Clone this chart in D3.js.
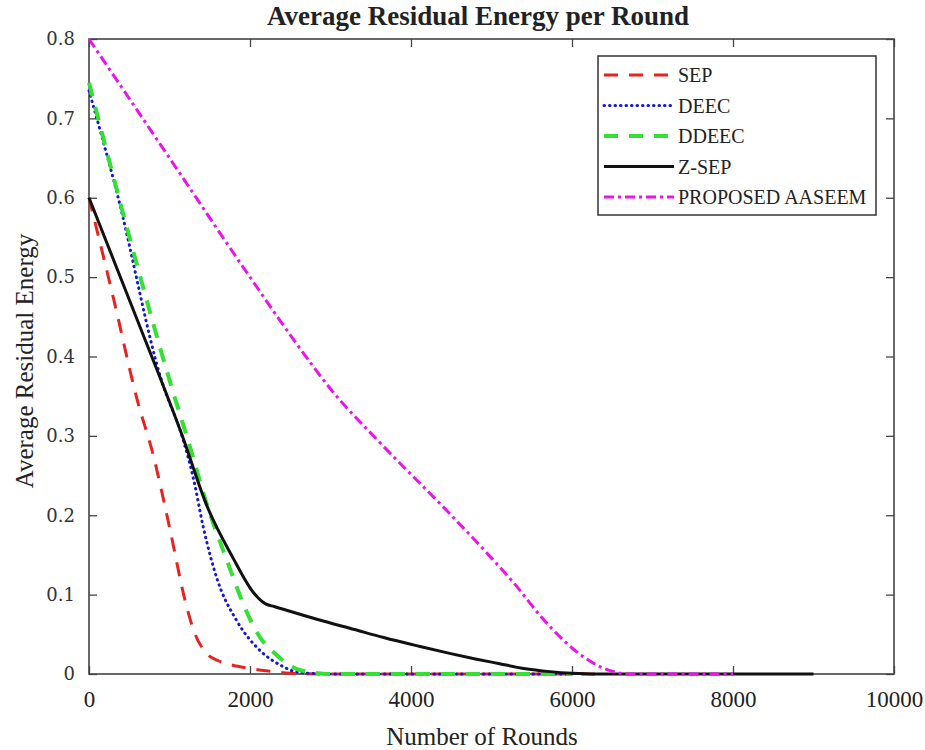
<!DOCTYPE html>
<html>
<head>
  <meta charset="utf-8">
  <script src="https://d3js.org/d3.v7.min.js"></script>
  <style>
    body { margin: 0; background: #fff; }
    text { font-family: "Liberation Serif", "DejaVu Serif", serif; fill: #222; }
    .axis .domain { stroke: none; }
    .axis line { stroke: #444; stroke-width: 1.3; }
    .y.axis text { font-family: "DejaVu Serif", serif; fill: #333; }
  </style>
</head>
<body>
  <svg id="chart" width="925" height="750"></svg>

  <script>
    // data: [rounds, average residual energy]
    const sepData = [[0, 0.6], [300, 0.475], [600, 0.345], [800, 0.275], [1000, 0.185], [1200, 0.09],
      [1300, 0.055], [1450, 0.027], [1600, 0.017], [1750, 0.012], [2000, 0.007], [2200, 0.004],
      [2500, 0.001], [3000, 0], [6300, 0]];
    const deecData = [[0, 0.735], [350, 0.605], [900, 0.37], [1170, 0.295], [1300, 0.245], [1420, 0.185],
      [1590, 0.12], [1830, 0.068], [2120, 0.03], [2400, 0.01], [2600, 0.002], [3000, 0], [6000, 0]];
    const ddeecData = [[0, 0.745], [530, 0.54], [1030, 0.36], [1255, 0.286], [1460, 0.215], [1710, 0.144],
      [1960, 0.078], [2100, 0.05], [2330, 0.024], [2620, 0.005], [3000, 0], [6000, 0]];
    const zsepData = [[0, 0.6], [600, 0.446], [1170, 0.297], [1460, 0.213], [1790, 0.146], [2040, 0.103],
      [2130, 0.093], [2200, 0.088], [2300, 0.085], [2830, 0.069], [3300, 0.056], [3660, 0.046], [4100, 0.035],
      [4480, 0.026], [4800, 0.019], [5100, 0.013], [5400, 0.007], [5730, 0.003], [6000, 0.001],
      [6300, 0], [9000, 0]];
    const aaseemData = [[0, 0.8], [1000, 0.65], [2000, 0.5], [2600, 0.413], [3050, 0.353], [3600, 0.293],
      [4500, 0.2], [5000, 0.146], [5300, 0.112], [5600, 0.074], [5900, 0.042], [6150, 0.021],
      [6400, 0.007], [6600, 0.001], [6700, 0], [8000, 0]];

    const seriesNames = ['SEP', 'DEEC', 'DDEEC', 'Z-SEP', 'PROPOSED AASEEM'];
    const xTicks = [0, 2000, 4000, 6000, 8000, 10000];
    const yTicks = [0, 0.1, 0.2, 0.3, 0.4, 0.5, 0.6, 0.7, 0.8];

    const svg = d3.select('svg#chart');
    const margins = { top: 39, right: 31, bottom: 76, left: 89 };
    const chartWidth = 925 - margins.left - margins.right;
    const chartHeight = 750 - margins.top - margins.bottom;

    const xScale = d3.scaleLinear().domain([0, 10000]).range([0, chartWidth]);
    const yScale = d3.scaleLinear().domain([0, 0.8]).range([chartHeight, 0]);

    const chartArea = svg.append('g')
      .attr('transform', `translate(${margins.left},${margins.top})`);

    // ticks go inward on all four sides, like matlab
    const tickLen = 8;
    chartArea.append('g').attr('class', 'x axis')
      .attr('transform', `translate(0,${chartHeight})`)
      .call(d3.axisBottom(xScale).tickValues(xTicks).tickSize(-tickLen).tickPadding(17).tickFormat(d3.format('d')))
      .selectAll('text').attr('font-size', 23).attr('dy', '0.71em');
    chartArea.append('g').attr('class', 'axis')
      .call(d3.axisTop(xScale).tickValues(xTicks).tickSize(-tickLen).tickFormat(''));
    chartArea.append('g').attr('class', 'y axis')
      .call(d3.axisLeft(yScale).tickValues(yTicks).tickSize(-tickLen).tickPadding(14).tickFormat(d => d === 0 ? '0' : d3.format('.1f')(d)))
      .selectAll('text').attr('font-size', 18);
    chartArea.append('g').attr('class', 'axis')
      .attr('transform', `translate(${chartWidth},0)`)
      .call(d3.axisRight(yScale).tickValues(yTicks).tickSize(-tickLen).tickFormat(''));

    // frame
    chartArea.append('rect')
      .attr('width', chartWidth).attr('height', chartHeight)
      .attr('fill', 'none').attr('stroke', '#444').attr('stroke-width', 1.6);

    const styles = [
      { data: sepData, color: '#e8231f', width: 3, dash: '14,11', cap: 'butt' },
      { data: deecData, color: '#1515e0', width: 3, dash: '0.5,5', cap: 'round' },
      { data: ddeecData, color: '#33e033', width: 4, dash: '14,11', cap: 'butt' },
      { data: zsepData, color: '#111', width: 3, dash: null, cap: 'butt' },
      { data: aaseemData, color: '#ee11ee', width: 3, dash: '10,4,3,4', cap: 'butt' }
    ];

    const line = d3.line()
      .x(d => xScale(d[0]))
      .y(d => yScale(d[1]))
      .curve(d3.curveMonotoneX);

    styles.forEach((s) => {
      chartArea.append('path')
        .datum(s.data)
        .attr('d', line)
        .attr('fill', 'none')
        .attr('stroke', s.color)
        .attr('stroke-width', s.width)
        .attr('stroke-linecap', s.cap)
        .attr('stroke-linejoin', 'round')
        .attr('stroke-dasharray', s.dash);
    });

    // legend
    const legend = svg.append('g').attr('transform', 'translate(598,56)');
    legend.append('rect')
      .attr('width', 278).attr('height', 159)
      .attr('fill', '#fff').attr('stroke', '#333').attr('stroke-width', 1.5);
    seriesNames.forEach((name, i) => {
      const y = 19 + i * 30.5;
      legend.append('line')
        .attr('x1', 6).attr('x2', 76).attr('y1', y).attr('y2', y)
        .attr('stroke', styles[i].color)
        .attr('stroke-width', styles[i].width)
        .attr('stroke-linecap', styles[i].cap)
        .attr('stroke-dasharray', styles[i].dash);
      legend.append('text')
        .attr('x', 80).attr('y', y).attr('dy', '0.35em')
        .attr('font-size', 20)
        .text(name);
    });

    // titles
    svg.append('text')
      .attr('x', 478).attr('y', 25)
      .attr('text-anchor', 'middle')
      .attr('font-size', 27).attr('font-weight', 'bold')
      .text('Average Residual Energy per Round');

    svg.append('text')
      .attr('x', 482).attr('y', 745)
      .attr('text-anchor', 'middle')
      .attr('font-size', 25)
      .text('Number of Rounds');

    svg.append('text')
      .attr('transform', 'translate(33,361) rotate(-90)')
      .attr('text-anchor', 'middle')
      .attr('font-size', 25)
      .text('Average Residual Energy');
  </script>
</body>
</html>
